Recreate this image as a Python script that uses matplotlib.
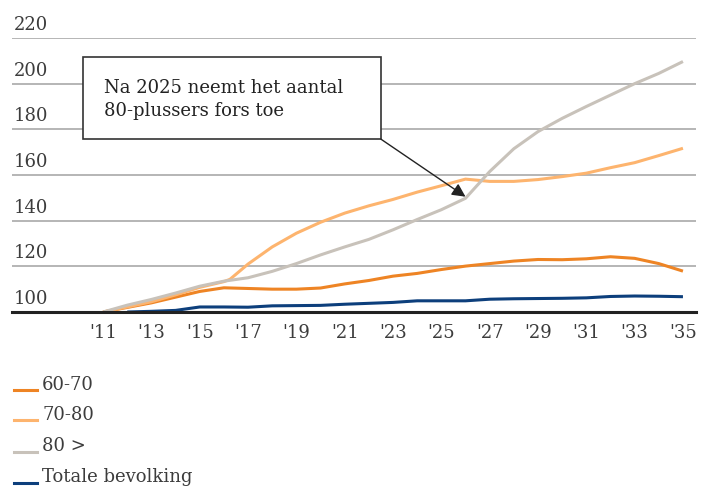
import matplotlib
matplotlib.use("Agg")
import matplotlib.pyplot as plt
from matplotlib.lines import Line2D
from matplotlib.patches import Rectangle
import matplotlib.transforms as mtransforms

plt.rcParams['font.family'] = ['DejaVu Serif']

years = [11, 12, 13, 14, 15, 16, 17, 18, 19, 20, 21, 22, 23, 24, 25, 26, 27, 28, 29, 30, 31, 32, 33, 34, 35]
s60_70 = [100, 102, 104, 106.5, 109.0, 110.6, 110.3, 110.0, 110.0, 110.5, 112.3, 113.8, 115.7, 116.9, 118.6, 120.1, 121.2, 122.3, 123.0, 122.9, 123.3, 124.2, 123.5, 121.2, 117.9]

years_70_80 = [11, 12, 13, 14, 15, 16, 16.25, 17, 18, 19, 20, 21, 22, 23, 24, 25, 26, 27, 28, 29, 30, 31, 32, 33, 34, 35]
s70_80 = [100, 102.2, 104.5, 107.5, 110.8, 113.3, 114.3, 121.0, 128.5, 134.5, 139.3, 143.3, 146.5, 149.3, 152.5, 155.3, 158.2, 157.2, 157.2, 158.0, 159.3, 160.8, 163.2, 165.4, 168.5, 171.7]

years_80 = [11, 12, 13, 14, 15, 16, 17, 18, 19, 20, 21, 22, 23, 24, 25, 26, 27, 28, 29, 30, 31, 32, 33, 34, 35]
s80 = [100, 103.0, 105.5, 108.3, 111.3, 113.5, 115.0, 117.8, 121.2, 125.0, 128.5, 131.8, 136.0, 140.5, 144.8, 149.8, 161.5, 171.5, 179.0, 184.8, 190.0, 195.0, 200.0, 204.5, 209.7]

blue_years = [12, 13, 14, 15, 16, 17, 18, 19, 20, 21, 22, 23, 24, 25, 26, 27, 28, 29, 30, 31, 32, 33, 34, 35]
s_total = [100.0, 100.3, 100.7, 102.2, 102.2, 102.1, 102.7, 102.8, 102.9, 103.4, 103.8, 104.2, 104.9, 104.9, 104.9, 105.6, 105.8, 105.9, 106.0, 106.2, 106.8, 107.0, 106.9, 106.7]

labels = ['60-70', '70-80', '80 >', 'Totale bevolking']
colors = ['#EE8424', '#FDB46E', '#C8C2BA', '#0D3F7C']
yticks = [100, 120, 140, 160, 180, 200, 220]
xticks = list(range(11, 36, 2))
xticklabels = ["'%d" % y for y in xticks]
note = "Na 2025 neemt het aantal\n80-plussers fors toe"
note_xy = (26.0, 150.5)

TXT = '#3c3c3c'
fig = plt.figure(figsize=(7.12, 4.89), dpi=100)
ax = fig.add_axes([12/712, 1-313/489, (696-12)/712, (313-39)/489])

series = [(years, s60_70), (years_70_80, s70_80), (years_80, s80), (blue_years, s_total)]
for (xs, ys), c, lab in zip(series, colors, labels):
    ax.plot(xs, ys, color=c, lw=2.2, label=lab, solid_capstyle='butt',
            solid_joinstyle='round', zorder=3)

ax.set_xlim(7.23, 35.54)
ax.set_ylim(100, 220)
for s in ['top', 'right', 'left']:
    ax.spines[s].set_visible(False)
ax.spines['bottom'].set_color('#222222')
ax.spines['bottom'].set_linewidth(2.2)
ax.spines['bottom'].set_zorder(5)

ax.set_yticks(yticks)
ax.set_yticklabels([])
ax.tick_params(axis='y', length=0)
ax.grid(axis='y', color='#B0B0B0', lw=1.3, zorder=1)
ax.set_xticks(xticks)
ax.set_xticklabels(xticklabels, fontsize=13, color=TXT)
ax.tick_params(axis='x', length=0, pad=8)

trans = mtransforms.blended_transform_factory(ax.transAxes, ax.transData)
offset = mtransforms.ScaledTranslation(0, 3.5/72, fig.dpi_scale_trans)
for v in yticks:
    ax.text(0.003, v, str(v), transform=trans + offset, ha='left', va='bottom',
            fontsize=13, color=TXT)

# annotation box (data coords)
box_x0, box_x1 = 10.17, 22.5
box_y0, box_y1 = 175.7, 211.6
ax.add_patch(Rectangle((box_x0, box_y0), box_x1 - box_x0, box_y1 - box_y0,
                       fc='white', ec='#333333', lw=1.2, zorder=6, clip_on=False))
ax.text(11.05, 193.5, note, ha='left', va='center', fontsize=13, color='#222222',
        linespacing=1.35, zorder=7)
ax.annotate('', xy=note_xy, xytext=(box_x1, box_y0),
            arrowprops=dict(arrowstyle='-|>,head_length=0.8,head_width=0.4', color='#222222', lw=1.0,
                            shrinkA=0, shrinkB=0),
            zorder=7)

# legend
legend_y = [391, 421, 452.5, 484]
for lab, c, yy in zip(labels, colors, legend_y):
    fy = 1 - yy/489
    fig.add_artist(Line2D([14/712, 37/712], [fy, fy], color=c, lw=2.2, transform=fig.transFigure))
    fig.text(42/712, 1 - (yy - 6.5)/489, lab, ha='left', va='center', fontsize=13, color=TXT)

fig.savefig('out.png', dpi=100)
